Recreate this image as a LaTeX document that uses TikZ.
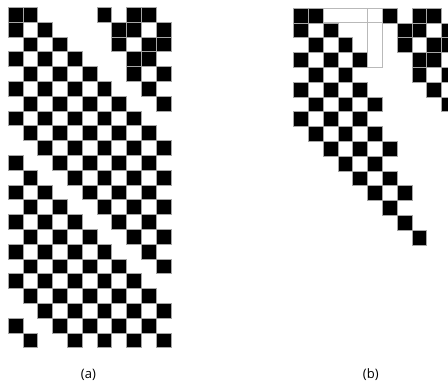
\documentclass[tikz,border=0pt]{standalone}
\usepackage{fontspec}
\setmainfont{Open Sans}
\begin{document}
\begin{tikzpicture}[x=1pt, y=1pt,
  cell/.style={fill=black, draw=gray!70, line width=0.4pt},
  hilite/.style={draw=gray!55, line width=0.7pt},
  lbl/.style={font=\fontsize{13}{15}\selectfont, inner sep=0pt}]
  % page of the reference, 1pt = 1px
  \clip (0,0) rectangle (448,-384);

  % grid (a): black cells per row
  \begin{scope}[shift={(8,-7.2)}, x=14.8pt, y=-14.8pt]
    \foreach \r/\cols in {0/{0,1,6,8,9}, 1/{0,2,7,8,10}, 2/{1,3,7,9,10}, 3/{0,2,4,8,9},
        4/{1,3,5,8,10}, 5/{0,2,4,6,9}, 6/{1,3,5,7,10}, 7/{0,2,4,6,8}, 8/{1,3,5,7,9},
        9/{2,4,6,8,10}, 10/{0,3,5,7,9}, 11/{1,4,6,8,10}, 12/{0,2,5,7,9}, 13/{1,3,6,8,10},
        14/{0,2,4,7,9}, 15/{1,3,5,8,10}, 16/{0,2,4,6,9}, 17/{1,3,5,7,10}, 18/{0,2,4,6,8},
        19/{1,3,5,7,9}, 20/{2,4,6,8,10}, 21/{0,3,5,7,9}, 22/{1,4,6,8,10}} {
      \foreach \c in \cols {
        \filldraw[cell] (\c,\r) rectangle ++(1,1);
      }
    }
  \end{scope}

  % grid (b): same start, then only the staircase
  \begin{scope}[shift={(293.3,-8)}, x=14.8pt, y=-14.8pt]
    \foreach \r/\cols in {0/{0,1,6,8,9}, 1/{0,2,7,8,10}, 2/{1,3,7,9,10}, 3/{0,2,4,8,9},
        4/{1,3,8,10}, 5/{0,2,4,9}, 6/{1,3,5,10}, 7/{0,2,4}, 8/{1,3,5}, 9/{2,4,6},
        10/{3,5}, 11/{4,6}, 12/{5,7}, 13/{6}, 14/{7}, 15/{8}} {
      \foreach \c in \cols {
        \filldraw[cell] (\c,\r) rectangle ++(1,1);
      }
    }
    % outlined empty cells
    \draw[hilite] (2,0) rectangle (6,1);
    \draw[hilite] (5,0) rectangle (6,4);
  \end{scope}

  % captions
  \node[lbl] (capA) at (88.4,-374.5) {(a)};
  \node[lbl] (capB) at (370.8,-374.5) {(b)};
\end{tikzpicture}
\end{document}
